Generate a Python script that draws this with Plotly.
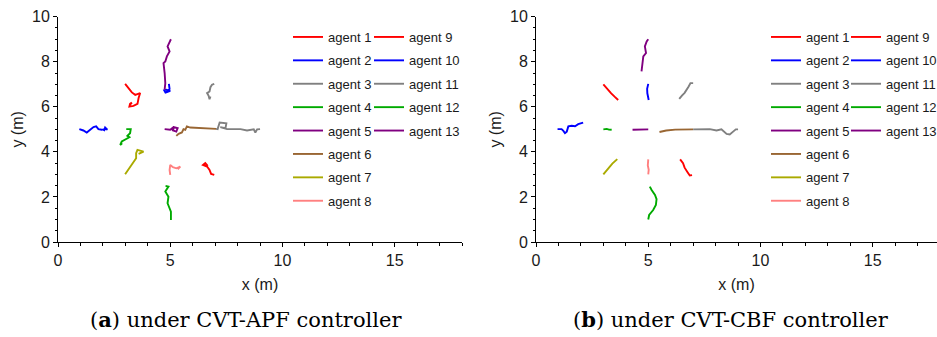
import plotly.graph_objects as go

# ---------------- data ----------------
AGENTS = ["agent %d" % i for i in range(1, 14)]
COLORS = ["#FF0000", "#0000FF", "#808080", "#00AA00", "#800080", "#996633",
          "#AAAA00", "#FF8080", "#FF0000", "#0000FF", "#808080", "#00AA00", "#800080"]

X_TICKS = [0, 5, 10, 15]
Y_TICKS = [0, 2, 4, 6, 8, 10]
CAPTION_A = "(<b>a</b>) under CVT-APF controller"
CAPTION_B = "(<b>b</b>) under CVT-CBF controller"

# (a) CVT-APF trajectories
APF_X1 = [2.99, 3.14, 3.29, 3.44, 3.59, 3.66, 3.59, 3.54, 3.36, 3.18, 3.21, 3.29, 3.2]
APF_Y1 = [7.02, 6.83, 6.64, 6.53, 6.58, 6.61, 6.39, 6.13, 6.04, 6.01, 6.13, 6.19, 6.08]
APF_X2 = [4.94, 4.97, 4.88, 4.78, 4.73, 4.82, 5.0, 4.9, 4.76]
APF_Y2 = [7.02, 6.79, 6.68, 6.64, 6.73, 6.76, 6.71, 6.66, 6.62]
APF_X3 = [6.96, 6.86, 6.79, 6.75, 6.64, 6.71, 6.75, 6.79]
APF_Y3 = [7.02, 6.98, 6.87, 6.68, 6.61, 6.49, 6.34, 6.46]
APF_X4 = [3.04, 3.24, 3.21, 3.09, 3.18, 2.99, 2.84, 2.77, 2.86]
APF_Y4 = [5.01, 5.01, 4.83, 4.71, 4.65, 4.53, 4.46, 4.31, 4.38]
APF_X5 = [4.75, 5.0, 5.15, 5.33, 5.27, 5.12, 5.18, 5.05]
APF_Y5 = [5.01, 4.98, 5.1, 5.05, 4.9, 4.95, 5.12, 4.98]
APF_X6 = [7.04, 6.49, 5.89, 5.74, 5.67, 5.59, 5.52, 5.37, 5.27]
APF_Y6 = [5.02, 5.05, 5.08, 5.13, 4.98, 5.01, 4.86, 4.8, 4.71]
APF_X7 = [2.99, 3.18, 3.36, 3.48, 3.48, 3.54, 3.81, 3.59]
APF_Y7 = [3.01, 3.27, 3.5, 3.72, 3.94, 4.09, 4.01, 3.91]
APF_X8 = [5.0, 4.97, 5.0, 5.12, 5.27, 5.45, 5.33]
APF_Y8 = [2.98, 3.2, 3.42, 3.32, 3.27, 3.35, 3.23]
APF_X9 = [6.96, 6.82, 6.75, 6.64, 6.46, 6.56, 6.67]
APF_Y9 = [2.98, 3.02, 3.2, 3.35, 3.42, 3.5, 3.38]
APF_X10 = [0.95, 1.13, 1.28, 1.43, 1.58, 1.7, 1.8, 1.95, 2.1, 2.2, 2.1, 2.05]
APF_Y10 = [5.01, 4.95, 4.86, 4.98, 5.1, 5.13, 5.01, 4.98, 5.02, 4.99, 5.08, 4.92]
APF_X11 = [7.04, 7.11, 7.2, 7.5, 7.46, 7.23, 7.53, 8.13, 8.42, 8.72, 8.79, 8.87, 9.0]
APF_Y11 = [5.02, 5.01, 5.3, 5.27, 5.05, 5.1, 5.01, 5.01, 4.95, 5.0, 4.86, 5.0, 5.01]
APF_X12 = [5.03, 5.03, 4.88, 4.92, 4.78, 4.92, 4.79]
APF_Y12 = [0.98, 1.35, 1.72, 2.01, 2.24, 2.46, 2.49]
APF_X13 = [5.03, 4.88, 4.97, 4.85, 4.78, 4.7, 4.75, 4.78, 4.75]
APF_Y13 = [9.0, 8.68, 8.46, 8.24, 8.01, 7.94, 7.5, 7.05, 6.76]

# (b) CVT-CBF trajectories
CBF_X1 = [3.0, 3.1, 3.18, 3.25, 3.35, 3.5, 3.66]
CBF_Y1 = [7.0, 6.88, 6.78, 6.72, 6.6, 6.45, 6.3]
CBF_X2 = [5.0, 4.95, 4.96, 5.02]
CBF_Y2 = [7.02, 6.8, 6.6, 6.3]
CBF_X3 = [7.0, 6.88, 6.8, 6.7, 6.62, 6.5, 6.38]
CBF_Y3 = [7.05, 7.05, 6.9, 6.75, 6.62, 6.5, 6.35]
CBF_X4 = [3.0, 3.15, 3.25, 3.37]
CBF_Y4 = [5.0, 5.02, 4.99, 4.98]
CBF_X5 = [4.3, 4.6, 5.0]
CBF_Y5 = [4.98, 5.0, 5.0]
CBF_X6 = [5.5, 5.8, 6.2, 6.6, 7.0]
CBF_Y6 = [4.88, 4.95, 4.99, 5.01, 5.0]
CBF_X7 = [3.0, 3.1, 3.25, 3.4, 3.62]
CBF_Y7 = [3.0, 3.12, 3.3, 3.48, 3.68]
CBF_X8 = [5.0, 5.02, 4.98, 5.0]
CBF_Y8 = [3.0, 3.2, 3.4, 3.67]
CBF_X9 = [6.95, 6.85, 6.75, 6.62, 6.55, 6.42]
CBF_Y9 = [2.97, 2.95, 3.1, 3.3, 3.5, 3.67]
CBF_X10 = [0.96, 1.14, 1.22, 1.29, 1.37, 1.44, 1.59, 1.74, 1.88, 2.03, 2.1]
CBF_Y10 = [5.01, 5.01, 4.93, 4.83, 4.9, 5.13, 5.16, 5.14, 5.23, 5.27, 5.3]
CBF_X11 = [7.0, 7.74, 8.04, 8.26, 8.49, 8.63, 8.78, 8.9, 9.0]
CBF_Y11 = [5.0, 5.01, 4.95, 5.0, 4.8, 4.77, 4.9, 5.0, 5.0]
CBF_X12 = [5.0, 5.04, 5.22, 5.34, 5.37, 5.3, 5.15, 5.07]
CBF_Y12 = [1.0, 1.2, 1.42, 1.64, 1.9, 2.09, 2.31, 2.46]
CBF_X13 = [4.7, 4.75, 4.78, 4.9, 4.85, 4.93, 5.0]
CBF_Y13 = [7.57, 7.94, 8.24, 8.39, 8.68, 8.9, 9.0]

APF_X = [APF_X1, APF_X2, APF_X3, APF_X4, APF_X5, APF_X6, APF_X7, APF_X8, APF_X9, APF_X10, APF_X11, APF_X12, APF_X13]
APF_Y = [APF_Y1, APF_Y2, APF_Y3, APF_Y4, APF_Y5, APF_Y6, APF_Y7, APF_Y8, APF_Y9, APF_Y10, APF_Y11, APF_Y12, APF_Y13]
CBF_X = [CBF_X1, CBF_X2, CBF_X3, CBF_X4, CBF_X5, CBF_X6, CBF_X7, CBF_X8, CBF_X9, CBF_X10, CBF_X11, CBF_X12, CBF_X13]
CBF_Y = [CBF_Y1, CBF_Y2, CBF_Y3, CBF_Y4, CBF_Y5, CBF_Y6, CBF_Y7, CBF_Y8, CBF_Y9, CBF_Y10, CBF_Y11, CBF_Y12, CBF_Y13]

# ---------------- figure ----------------
W, H = 937, 337
SANS = "Liberation Sans, Arial, sans-serif"
SERIF = "DejaVu Serif, serif"
TXT = "#1a1a1a"

fig = go.Figure()

def add_set(xs, ys, xa, ya, legs, prefix):
    for i, name in enumerate(AGENTS):
        fig.add_trace(go.Scatter(
            x=xs[i], y=ys[i], mode="lines", name=name,
            line=dict(color=COLORS[i], width=1.9),
            xaxis=xa, yaxis=ya,
            legend=legs[0] if i < 8 else legs[1],
            legendgroup=prefix + str(i),
        ))

add_set(APF_X, APF_Y, "x", "y", ["legend", "legend2"], "a")
add_set(CBF_X, CBF_Y, "x2", "y2", ["legend3", "legend4"], "b")

PX = 22.45
Y_BOT, Y_TOP = 242, 16.7
ydom = [(H - Y_BOT) / H, (H - Y_TOP) / H]
L0 = 58
R0 = 536

def xaxis(dom, rng, anchor):
    return dict(domain=dom, range=rng, anchor=anchor,
                tickvals=X_TICKS, ticks="outside", ticklen=4, tickwidth=1, tickcolor="black",
                minor=dict(ticks="outside", dtick=1, tick0=0, ticklen=2.5, tickcolor="black", tickwidth=1),
                showline=True, linecolor="black", linewidth=1, showgrid=False, zeroline=False,
                tickfont=dict(family=SANS, size=16, color=TXT),
                title=dict(text="x (m)", font=dict(family=SANS, size=16, color=TXT), standoff=10),
                automargin=False, fixedrange=True)

def yaxis(anchor):
    return dict(domain=ydom, range=[0, 10], anchor=anchor,
                tickvals=Y_TICKS, ticks="outside", ticklen=4, tickwidth=1, tickcolor="black",
                minor=dict(ticks="outside", dtick=0.5, tick0=0, ticklen=2.5, tickcolor="black", tickwidth=1),
                showline=True, linecolor="black", linewidth=1, showgrid=False, zeroline=False,
                tickfont=dict(family=SANS, size=16, color=TXT),
                title=dict(text="y (m)", font=dict(family=SANS, size=16, color=TXT), standoff=4),
                automargin=False, fixedrange=True)

fig.update_layout(
    xaxis=xaxis([L0 / W, (L0 + 18 * PX) / W], [0, 18], "y"),
    yaxis=yaxis("x"),
    xaxis2=xaxis([R0 / W, 1.0], [0, (W - R0) / PX], "y2"),
    yaxis2=yaxis("x2"),
)

def legend(xpx):
    return dict(x=xpx / W, y=(H - 22) / H, xanchor="left", yanchor="top",
                xref="paper", yref="paper",
                bgcolor="rgba(0,0,0,0)", borderwidth=0,
                font=dict(family=SANS, size=13, color=TXT),
                traceorder="grouped", tracegroupgap=3.5, itemwidth=30,
                itemclick=False, itemdoubleclick=False)

fig.update_layout(
    legend=legend(288), legend2=legend(369),
    legend3=legend(766), legend4=legend(846),
    showlegend=True,
)

fig.add_annotation(text=CAPTION_A, x=246 / W, y=(H - 319) / H, xref="paper", yref="paper",
                   showarrow=False, xanchor="center", yanchor="middle",
                   font=dict(family=SERIF, size=21, color="black"))
fig.add_annotation(text=CAPTION_B, x=731 / W, y=(H - 319) / H, xref="paper", yref="paper",
                   showarrow=False, xanchor="center", yanchor="middle",
                   font=dict(family=SERIF, size=21, color="black"))

fig.update_layout(
    width=W, height=H,
    margin=dict(l=0, r=0, t=0, b=0, pad=0, autoexpand=False),
    paper_bgcolor="white", plot_bgcolor="white",
)

fig.write_html("out.html", config={"displayModeBar": False})
